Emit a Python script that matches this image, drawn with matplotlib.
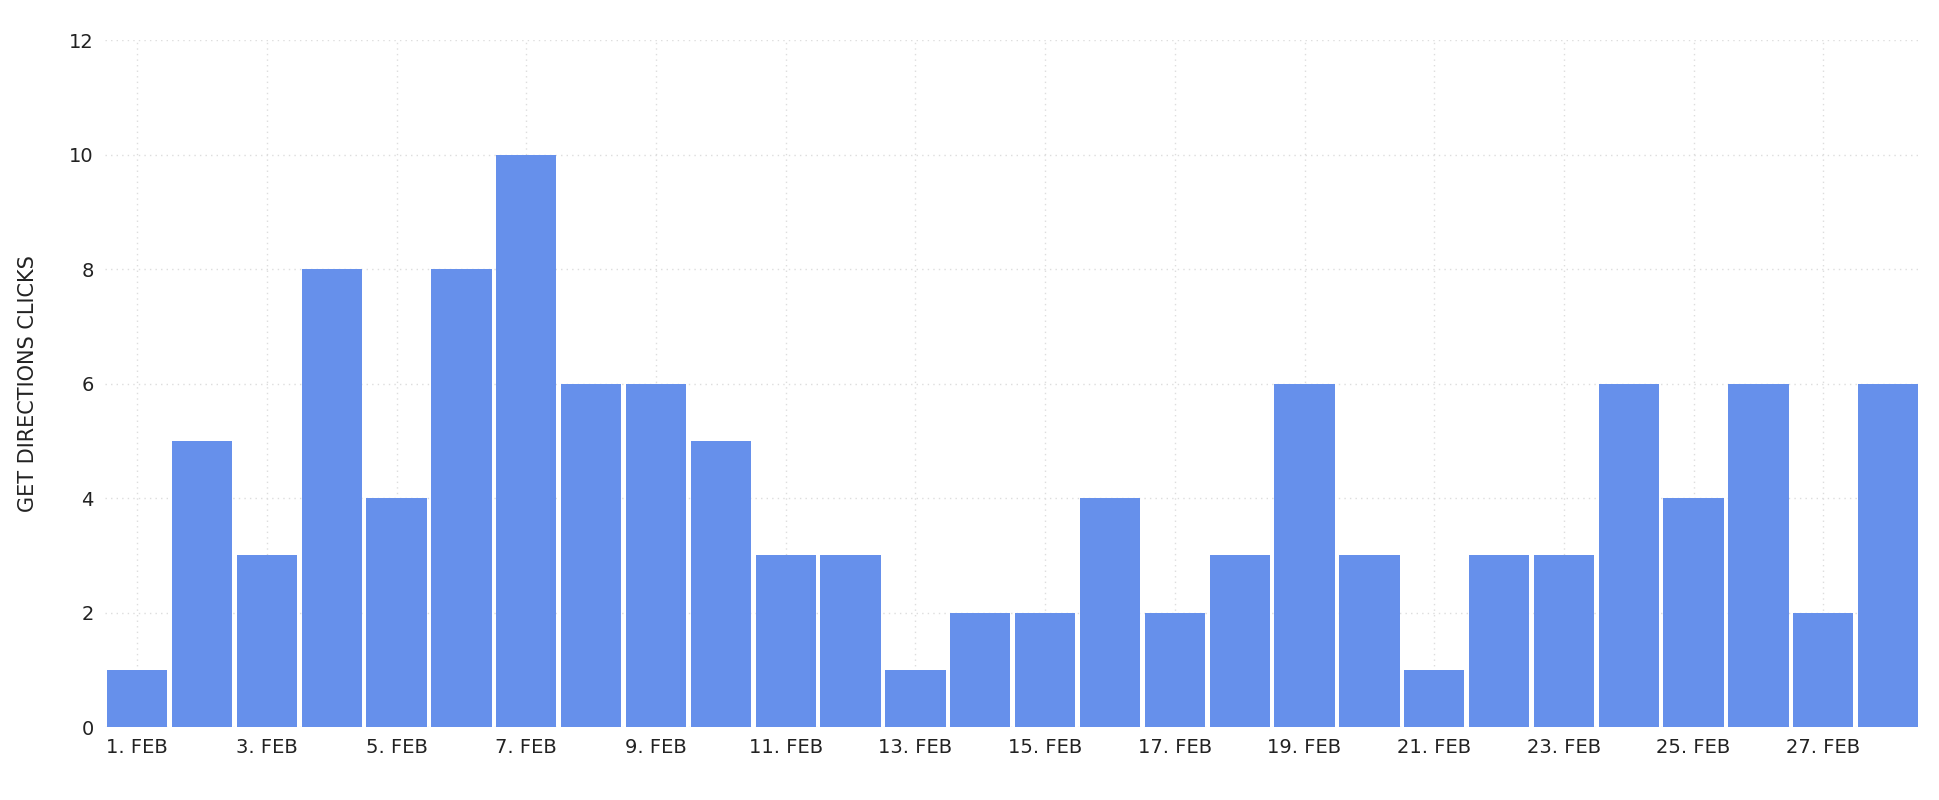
import matplotlib
matplotlib.use("Agg")
import matplotlib.pyplot as plt

days = [f"{i}. FEB" for i in range(1, 29)]
clicks = [1,5,3,8,4,8,10,6,6,5,3,3,1,2,2,4,2,3,6,3,1,3,3,6,4,6,2,6]
yticks = [0,2,4,6,8,10,12]

fig = plt.figure(figsize=(19.4, 8), dpi=100)
ax = fig.add_axes([0.054, 0.091, 0.936, 0.859])
x = list(range(len(clicks)))
ax.bar(x, clicks, width=0.93, color="#6690EB", zorder=2)
ax.set_xlim(-0.5, 27.5)
ax.set_ylim(0, 12)
ax.set_yticks(yticks)
ax.set_xticks(x[::2])
ax.set_xticklabels(days[::2])
ax.tick_params(length=0, labelsize=14, colors="#222222", pad=8)
ax.grid(True, color="#dddddd", linestyle=(0, (1, 3)), linewidth=1, zorder=0)
for s in ax.spines.values():
    s.set_visible(False)
ax.set_ylabel("GET DIRECTIONS CLICKS", fontsize=15, color="#222222", labelpad=22)
fig.savefig("out.png", dpi=100, facecolor="white")
